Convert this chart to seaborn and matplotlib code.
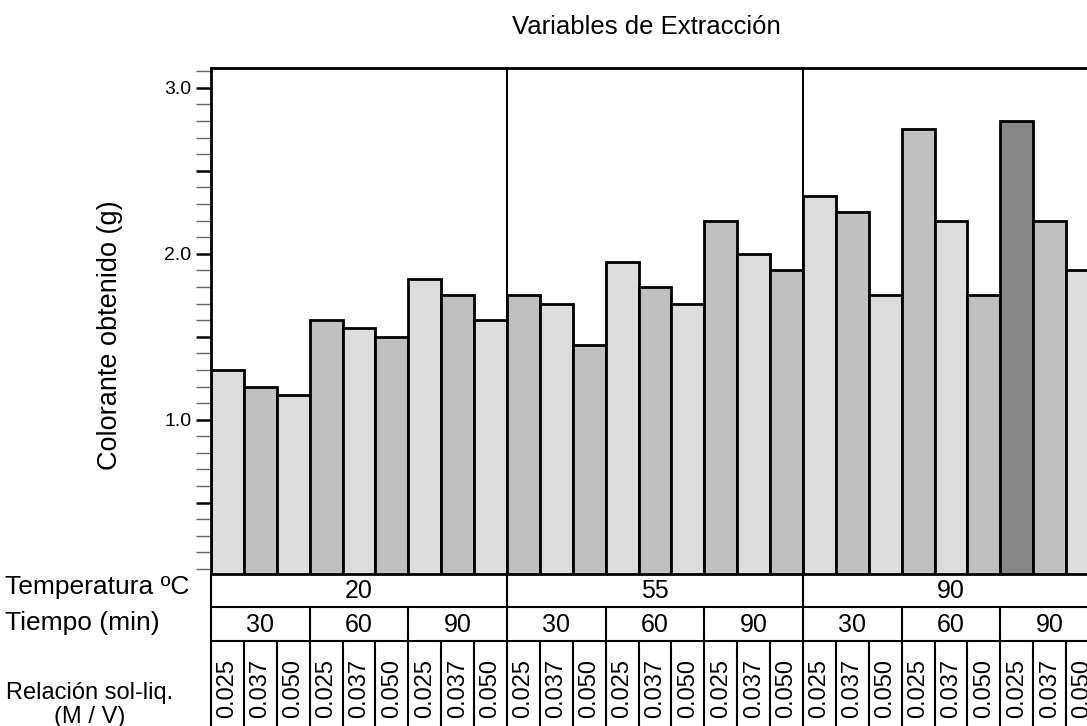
import seaborn as sns
import pandas as pd
import numpy as np
import matplotlib.pyplot as plt
from matplotlib.ticker import MultipleLocator, FuncFormatter

# datos
temperaturas = ["20", "55", "90"]
tiempos = ["30", "60", "90"]
relaciones = ["0.025", "0.037", "0.050"]
colorante = [1.30, 1.20, 1.15, 1.60, 1.55, 1.50, 1.85, 1.75, 1.60,
             1.75, 1.70, 1.45, 1.95, 1.80, 1.70, 2.20, 2.00, 1.90,
             2.35, 2.25, 1.75, 2.75, 2.20, 1.75, 2.80, 2.20, 1.90]
destacado = 24  # barra mas alta, en gris oscuro

filas = []
for t in temperaturas:
    for m in tiempos:
        for r in relaciones:
            filas.append((t, m, r))
df = pd.DataFrame(filas, columns=["temp", "tiempo", "relacion"])
df["colorante"] = colorante
df["clave"] = df["temp"] + "/" + df["tiempo"] + "/" + df["relacion"]

colores = ["#dcdcdc" if i % 2 == 0 else "#c0c0c0" for i in range(len(df))]
colores[destacado] = "#878787"

sns.set_style("white")
plt.rcParams["font.family"] = ["Liberation Sans", "DejaVu Sans"]
plt.rcParams["text.color"] = "black"
plt.rcParams["ytick.color"] = "black"

W, H = 1087, 726
fig = plt.figure(figsize=(W / 100, H / 100), dpi=100)
x0, x1 = 211, 1099
ax = fig.add_axes([x0 / W, 1 - 574 / H, (x1 - x0) / W, (574 - 68) / H])

sns.barplot(data=df, x="clave", y="colorante", hue="clave", palette=colores,
            order=df["clave"], hue_order=df["clave"], width=1.0,
            edgecolor="black", linewidth=2.0, legend=False, ax=ax)
n = len(df)
ax.set_xlim(-0.5, n - 0.5)
ax.set_ylim(0.07, 3.12)
ax.set_xticks([])
ax.set_xlabel("")
ax.set_ylabel("")
for s in ["left", "top", "bottom"]:
    ax.spines[s].set_color("black")
    ax.spines[s].set_linewidth(2)
ax.spines["right"].set_visible(False)
for g in range(1, len(temperaturas)):
    ax.axvline(g * 9 - 0.5, color="black", lw=1.4)

ax.yaxis.set_major_locator(MultipleLocator(0.5))
ax.yaxis.set_minor_locator(MultipleLocator(0.1))
ax.yaxis.set_major_formatter(FuncFormatter(
    lambda v, _: f"{v:.1f}" if abs(v - round(v)) < 1e-6 else ""))
ax.tick_params(axis="y", which="major", left=True, length=11, width=1.8,
               color="black", labelcolor="black", pad=3, labelsize=14)
ax.tick_params(axis="y", which="minor", left=True, length=11, width=1.0,
               color="#666666")

# tabla de variables bajo el grafico
tab = fig.add_axes([x0 / W, 1 - 762 / H, (x1 - x0) / W, 188 / H])
tab.set_xlim(-0.5, n - 0.5)
tab.set_ylim(188, 0)
tab.axis("off")
r1, r2 = 33, 67
lw = 1.5
tab.plot([-0.5, n - 0.5], [r1, r1], color="black", lw=lw, clip_on=False)
tab.plot([-0.5, n - 0.5], [r2, r2], color="black", lw=lw, clip_on=False)
for i in range(n + 1):
    xb = i - 0.5
    if i % 9 == 0:
        y_top = 0
    elif i % 3 == 0:
        y_top = r1
    else:
        y_top = r2
    tab.plot([xb, xb], [y_top, 188], color="black", lw=lw, clip_on=False)

for k, t in enumerate(temperaturas):
    tab.text(k * 9 + 4, r1 / 2 + 1, t, ha="center", va="center", fontsize=18)
for j in range(9):
    tab.text(j * 3 + 1, (r1 + r2) / 2 + 1, tiempos[j % 3], ha="center",
             va="center", fontsize=18)
for i in range(n):
    tab.text(i, 114, relaciones[i % 3], ha="center", va="center",
             rotation=90, fontsize=17)

fig.text(5 / W, 1 - 587 / H, "Temperatura ºC", ha="left", va="center", fontsize=19)
fig.text(5 / W, 1 - 623 / H, "Tiempo (min)", ha="left", va="center", fontsize=19)
fig.text(90 / W, 1 - 693 / H, "Relación sol-liq.", ha="center", va="center", fontsize=17)
fig.text(90 / W, 1 - 717 / H, "(M / V)", ha="center", va="center", fontsize=17)

fig.text(646 / W, 1 - 27 / H, "Variables de Extracción", ha="center",
         va="center", fontsize=18.5)
fig.text(110 / W, 1 - 335 / H, "Colorante obtenido (g)", ha="center",
         va="center", rotation=90, fontsize=19.5)

fig.savefig("out.png", dpi=100)
